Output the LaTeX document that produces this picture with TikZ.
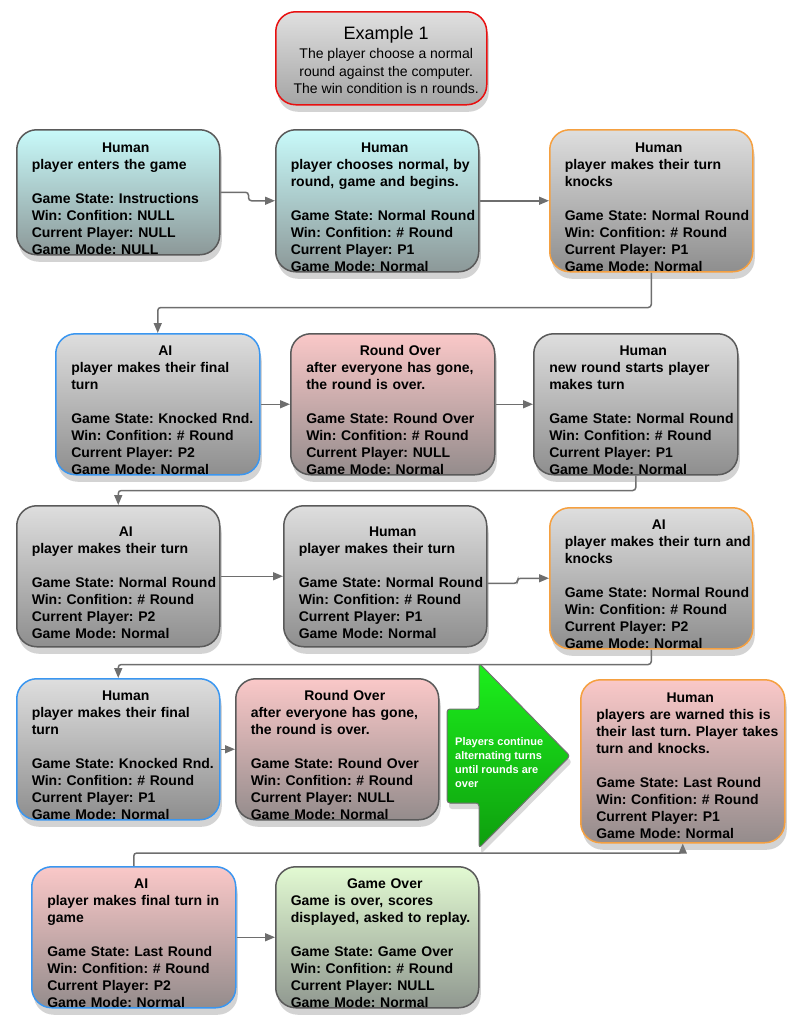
\documentclass[tikz,border=0pt]{standalone}
\usepackage{fontspec}
\setmainfont{Liberation Sans}
\usetikzlibrary{positioning,shadows,backgrounds,arrows.meta}
\frenchspacing

\definecolor{cyantop}{HTML}{C8FAFA}
\definecolor{cyanbot}{HTML}{8C9898}
\definecolor{graytop}{HTML}{DEDEDE}
\definecolor{graybot}{HTML}{8E8E8E}
\definecolor{pinktop}{HTML}{FAC8C8}
\definecolor{pinkbot}{HTML}{948C8C}
\definecolor{limetop}{HTML}{E2FAD2}
\definecolor{limebot}{HTML}{909890}
\definecolor{edgegray}{HTML}{5A5A5A}
\definecolor{edgeorange}{HTML}{F5A040}
\definecolor{edgeblue}{HTML}{3A96F0}
\definecolor{edgered}{HTML}{E81010}
\definecolor{greentop}{HTML}{1CF01C}
\definecolor{greenbot}{HTML}{0E9E0E}
\definecolor{linkgray}{HTML}{6E6E6E}

\tikzset{
  box/.style={rounded corners=20pt, line width=1.5pt, draw=edgegray,
    anchor=north west, minimum width=203pt, minimum height=141pt, inner sep=0pt,
    drop shadow={shadow xshift=2pt, shadow yshift=-7pt, opacity=.35}},
  cyanbox/.style={box, top color=cyantop, bottom color=cyanbot},
  graybox/.style={box, top color=graytop, bottom color=graybot},
  pinkbox/.style={box, top color=pinktop, bottom color=pinkbot},
  limebox/.style={box, top color=limetop, bottom color=limebot},
  txt/.style={text width=188pt, align=left, inner sep=0pt,
    font=\bfseries\fontsize{14}{17}\selectfont},
  flow/.style={draw=linkgray, line width=1.5pt, rounded corners=3pt,
    -{Triangle[length=10pt,width=8pt]}}
}

\begin{document}
\begin{tikzpicture}[x=1pt,y=-1pt]
\useasboundingbox (0,0) rectangle (800,1029);

% title
\node[graybox, draw=edgered, minimum width=211pt, minimum height=93pt,
  top color=graytop!95!white, bottom color=graybot!80!white] (title) at (275,11) {};
\node[align=center, inner sep=0pt, font=\fontsize{14}{17.5}\selectfont]
  (titlet) at ([xshift=5pt,yshift=-2pt]title.center)
  {{\fontsize{18}{20}\selectfont Example 1}\\[2pt]
   The player choose a normal\\ round against the computer.\\ The win condition is n rounds.};

% row 1
\node[cyanbox, minimum height=125pt] (enter) at (16,129) {};
\node[txt] (entert) at ([xshift=7.5pt,yshift=-6pt]enter.center)
  {\makebox[188pt]{Human}\\ player enters the game\\[17pt]
   Game State: Instructions\\ Win: Confition: NULL\\ Current Player: NULL\\ Game Mode: NULL};

\node[cyanbox, minimum height=142pt] (choose) at (275,129) {};
\node[txt] (chooset) at ([xshift=7.5pt,yshift=-6pt]choose.center)
  {\makebox[188pt]{Human}\\ player chooses normal, by\\ round, game and begins.\\[17pt]
   Game State: Normal Round\\ Win: Confition: \# Round\\ Current Player: P1\\ Game Mode: Normal};

\node[graybox, draw=edgeorange, minimum height=142pt] (knock1) at (549,129) {};
\node[txt] (knock1t) at ([xshift=7.5pt,yshift=-6pt]knock1.center)
  {\makebox[188pt]{Human}\\ player makes their turn\\ knocks\\[17pt]
   Game State: Normal Round\\ Win: Confition: \# Round\\ Current Player: P1\\ Game Mode: Normal};

% row 2
\node[graybox, draw=edgeblue, minimum width=204pt] (aifinal) at (55,333) {};
\node[txt] (aifinalt) at ([xshift=7.5pt,yshift=-6pt]aifinal.center)
  {\makebox[188pt]{AI}\\ player makes their final\\ turn\\[17pt]
   Game State: Knocked Rnd.\\ Win: Confition: \# Round\\ Current Player: P2\\ Game Mode: Normal};

\node[pinkbox, minimum width=204pt] (over1) at (290,333) {};
\node[txt] (over1t) at ([xshift=7.5pt,yshift=-6pt]over1.center)
  {\makebox[188pt]{Round Over}\\ after everyone has gone,\\ the round is over.\\[17pt]
   Game State: Round Over\\ Win: Confition: \# Round\\ Current Player: NULL\\ Game Mode: Normal};

\node[graybox, minimum width=204pt] (newround) at (533,333) {};
\node[txt] (newroundt) at ([xshift=7.5pt,yshift=-6pt]newround.center)
  {\makebox[188pt]{Human}\\ new round starts player\\ makes turn\\[17pt]
   Game State: Normal Round\\ Win: Confition: \# Round\\ Current Player: P1\\ Game Mode: Normal};

% row 3
\node[graybox] (aiturn) at (16,505) {};
\node[txt] (aiturnt) at ([xshift=7.5pt,yshift=-6pt]aiturn.center)
  {\makebox[188pt]{AI}\\ player makes their turn\\[17pt]
   Game State: Normal Round\\ Win: Confition: \# Round\\ Current Player: P2\\ Game Mode: Normal};

\node[graybox] (humturn) at (283,505) {};
\node[txt] (humturnt) at ([xshift=7.5pt,yshift=-6pt]humturn.center)
  {\makebox[188pt]{Human}\\ player makes their turn\\[17pt]
   Game State: Normal Round\\ Win: Confition: \# Round\\ Current Player: P1\\ Game Mode: Normal};

\node[graybox, draw=edgeorange] (aiknock) at (549,507) {};
\node[txt] (aiknockt) at ([xshift=7.5pt,yshift=-6pt]aiknock.center)
  {\makebox[188pt]{AI}\\ player makes their turn and\\ knocks\\[17pt]
   Game State: Normal Round\\ Win: Confition: \# Round\\ Current Player: P2\\ Game Mode: Normal};

% row 4
\node[graybox, draw=edgeblue] (humfinal) at (16,678) {};
\node[txt] (humfinalt) at ([xshift=7.5pt,yshift=-6pt]humfinal.center)
  {\makebox[188pt]{Human}\\ player makes their final\\ turn\\[17pt]
   Game State: Knocked Rnd.\\ Win: Confition: \# Round\\ Current Player: P1\\ Game Mode: Normal};

\node[pinkbox] (over2) at (235,678) {};
\node[txt] (over2t) at ([xshift=7.5pt,yshift=-6pt]over2.center)
  {\makebox[188pt]{Round Over}\\ after everyone has gone,\\ the round is over.\\[17pt]
   Game State: Round Over\\ Win: Confition: \# Round\\ Current Player: NULL\\ Game Mode: Normal};

% big green arrow
\filldraw[draw=black!55, line width=1pt, rounded corners=3pt,
  top color=greentop, bottom color=greenbot,
  drop shadow={shadow xshift=2pt, shadow yshift=-6pt, opacity=.3}]
  (447,709) -- (479,709) -- (479,663) -- (570,756) -- (479,848) -- (479,803) -- (447,803) -- cycle;
\node[anchor=north west, inner sep=0pt, align=left, text=white,
  font=\bfseries\fontsize{11}{14}\selectfont] (more) at (455,737)
  {Players continue\\ alternating turns\\ until rounds are\\ over};

\node[pinkbox, draw=edgeorange, minimum width=204pt, minimum height=163pt] (lastturn) at (580,679) {};
\node[txt] (lastturnt) at ([xshift=7.5pt,yshift=-4pt]lastturn.center)
  {\makebox[188pt]{Human}\\ players are warned this is\\ their last turn. Player takes\\ turn and knocks.\\[17pt]
   Game State: Last Round\\ Win: Confition: \# Round\\ Current Player: P1\\ Game Mode: Normal};

% row 5
\node[pinkbox, draw=edgeblue, minimum width=204pt] (aigame) at (31,866) {};
\node[txt] (aigamet) at ([xshift=7.5pt,yshift=-6pt]aigame.center)
  {\makebox[188pt]{AI}\\ player makes final turn in\\ game\\[17pt]
   Game State: Last Round\\ Win: Confition: \# Round\\ Current Player: P2\\ Game Mode: Normal};

\node[limebox] (gameover) at (275,866) {};
\node[txt] (gameovert) at ([xshift=7.5pt,yshift=-6pt]gameover.center)
  {\makebox[188pt]{Game Over}\\ Game is over, scores\\ displayed, asked to replay.\\[17pt]
   Game State: Game Over\\ Win: Confition: \# Round\\ Current Player: NULL\\ Game Mode: Normal};

% connectors
\begin{scope}[on background layer]
\draw[flow] (enter.east) -- ++(28,0) |- (choose.west);
\draw[flow] (choose.east) -- (knock1.west);
\draw[flow] (knock1.south) -- ++(0,35) -| (aifinal.north);
\draw[flow] (aifinal.east) -- (over1.west);
\draw[flow] (over1.east) -- (newround.west);
\draw[flow] (newround.south) -- ++(0,15) -| (aiturn.north);
\draw[flow] (aiturn.east) -- (humturn.west);
\draw[flow] ([yshift=-7pt]humturn.east) -- ++(30,0) |- (aiknock.west);
\draw[flow] (aiknock.south) -- ++(0,15) -| (humfinal.north);
\draw[flow] (humfinal.east) -- (over2.west);
\draw[flow] (aigame.north) -- ++(0,-13) -| (lastturn.south);
\draw[flow] (aigame.east) -- (gameover.west);
\end{scope}

\end{tikzpicture}
\end{document}
